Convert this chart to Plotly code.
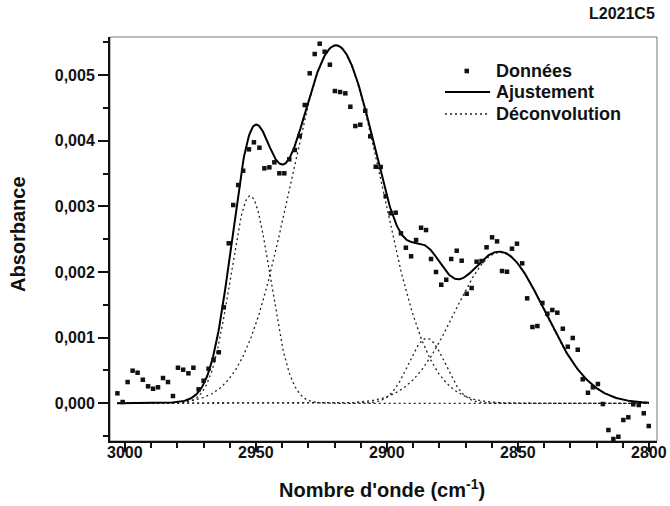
import numpy as np
import plotly.graph_objects as go

# ---- data ----
wavenumber = [3002.9, 3000.9, 2999.0, 2997.1, 2995.2, 2993.2, 2991.2, 2989.3, 2987.4, 2985.5,
              2983.6, 2981.7, 2979.8, 2977.8, 2975.8, 2973.9, 2971.9, 2970.0, 2968.1, 2966.2,
              2964.2, 2962.3, 2960.4, 2958.7, 2956.8, 2954.9, 2952.7, 2950.8, 2948.7, 2946.8,
              2944.9, 2943.0, 2941.1, 2939.2, 2937.3, 2935.2, 2933.3, 2931.4, 2929.5, 2927.6,
              2925.7, 2923.8, 2921.8, 2919.9, 2917.9, 2915.9, 2914.0, 2912.1, 2910.2, 2908.3,
              2906.4, 2904.3, 2902.4, 2900.5, 2898.6, 2896.7, 2894.7, 2892.8, 2890.8, 2888.9,
              2887.0, 2885.1, 2883.2, 2881.3, 2879.3, 2877.4, 2875.5, 2873.4, 2871.5, 2869.6,
              2867.7, 2865.8, 2863.9, 2862.0, 2859.9, 2858.0, 2856.1, 2854.2, 2852.3, 2850.4,
              2848.4, 2846.5, 2844.5, 2842.6, 2840.7, 2838.8, 2836.9, 2835.0, 2832.9, 2831.0,
              2829.1, 2827.2, 2825.3, 2823.3, 2821.4, 2819.5, 2817.6, 2815.5, 2813.6, 2811.7,
              2809.8, 2807.9, 2806.0, 2803.9, 2802.0, 2800.1]

absorbance = [0.000152, 0.000020, 0.000324, 0.000497, 0.000466, 0.000359, 0.000259, 0.000222, 0.000244, 0.000385,
              0.000324, 0.000111, 0.000542, 0.000512, 0.000457, 0.000542, 0.000213, 0.000344, 0.000527, 0.000664,
              0.000777, 0.001462, 0.002437, 0.003020, 0.003325, 0.003542, 0.003868, 0.003975, 0.003893, 0.003579,
              0.003594, 0.003670, 0.003503, 0.003503, 0.003716, 0.003858, 0.004071, 0.004543, 0.005026, 0.005320,
              0.005477, 0.005355, 0.005157, 0.004756, 0.004741, 0.004721, 0.004517, 0.004223, 0.004243, 0.004456,
              0.004066, 0.003603, 0.003599, 0.003153, 0.002894, 0.002903, 0.002589, 0.002370, 0.002239, 0.002487,
              0.002674, 0.002639, 0.002198, 0.002000, 0.001806, 0.001882, 0.002198, 0.002324, 0.002172, 0.001669,
              0.001756, 0.002157, 0.002167, 0.002376, 0.002528, 0.002467, 0.002015, 0.002004, 0.002355, 0.002431,
              0.002132, 0.001599, 0.001162, 0.001177, 0.001528, 0.001365, 0.001421, 0.001380, 0.001136, 0.000862,
              0.000995, 0.000816, 0.000366, 0.000161, 0.000244, 0.000294, -0.000011, -0.000407, -0.000544, -0.000509,
              -0.000254, -0.000213, -0.000015, -0.000026, -0.000152, -0.000346]

# Gaussian deconvolution components (centre, height, sigma)
peak_centers = [2952.2, 2919.5, 2884.8, 2856.9]
peak_heights = [0.00316, 0.00545, 0.00099, 0.00230]
peak_sigmas = [7.6, 17.6, 7.0, 17.2]

x_ticks = [3000, 2950, 2900, 2850, 2800]
x_tick_labels = ["3000", "2950", "2900", "2850", "2800"]
y_ticks = [0.000, 0.001, 0.002, 0.003, 0.004, 0.005]

legend_labels = ["Données", "Ajustement", "Déconvolution"]

# ---- figure ----
grid = np.linspace(3003, 2800, 700)
components = [h * np.exp(-0.5 * ((grid - c) / s) ** 2)
              for c, h, s in zip(peak_centers, peak_heights, peak_sigmas)]
fit = np.sum(components, axis=0)

DOT = "2px,3px"
fig = go.Figure()
for comp in components:
    fig.add_trace(go.Scatter(
        x=grid, y=comp, mode="lines", name=legend_labels[2], showlegend=False,
        line=dict(color="#222", width=1.3, dash=DOT)))

fig.add_trace(go.Scatter(
    x=grid, y=fit, mode="lines", name=legend_labels[1], showlegend=False,
    line=dict(color="black", width=2)))

fig.add_trace(go.Scatter(
    x=wavenumber, y=absorbance, mode="markers", name=legend_labels[0], showlegend=False,
    marker=dict(symbol="square", size=4.5, color="#111"), cliponaxis=False))

font_family = "Liberation Sans, Arial, sans-serif"

fig.update_layout(
    width=670, height=506,
    margin=dict(l=110, r=13, t=37, b=65),
    paper_bgcolor="white", plot_bgcolor="white",
    separators=", ",
    font=dict(family=font_family, color="#111"),
    showlegend=False,
)

fig.update_xaxes(
    range=[3005.73, 2796.95], tickvals=x_ticks, showticklabels=False,
    ticks="outside", ticklen=9, tickwidth=2, tickcolor="#111",
    showline=True, linewidth=2, linecolor="#111", mirror=False,
    showgrid=False, zeroline=False,
    minor=dict(dtick=10, tick0=3000, ticks="outside", ticklen=5, tickwidth=2, tickcolor="#111", showgrid=False),
)
fig.update_yaxes(
    range=[-0.000574, 0.005579], tickvals=y_ticks, tickformat=".3f",
    ticks="outside", ticklen=10, tickwidth=2, tickcolor="#111",
    showline=True, linewidth=2, linecolor="#111", mirror=False,
    showgrid=False, zeroline=False,
    tickfont=dict(size=16, family=font_family, weight="bold"),
    minor=dict(dtick=0.0005, tick0=0, ticks="outside", ticklen=5, tickwidth=2, tickcolor="#111", showgrid=False),
)

# thin frame on top/right
fig.add_shape(type="rect", xref="paper", yref="paper", x0=0, x1=1, y0=0, y1=1,
              line=dict(color="#777", width=1), layer="below")

# ---- page px -> paper coords (plot area x 110-657, y 37-441) ----
def px(xp):
    return (xp - 110) / 547.0

def py(yp):
    return (441 - yp) / 404.0

# x tick labels placed on the data axis
for v, t in zip(x_ticks, x_tick_labels):
    fig.add_annotation(text=t, xref="x", yref="paper", x=v, y=py(452),
                       xanchor="center", yanchor="middle", showarrow=False,
                       font=dict(size=16, family=font_family, weight="bold"))

# hand-drawn legend
rows = [71, 92, 114]
fig.add_shape(type="rect", xref="paper", yref="paper",
              x0=px(464.5), x1=px(469), y0=py(rows[0] + 2.3), y1=py(rows[0] - 2.3),
              fillcolor="#111", line=dict(width=0))
fig.add_shape(type="line", xref="paper", yref="paper",
              x0=px(445), x1=px(490), y0=py(rows[1]), y1=py(rows[1]),
              line=dict(color="black", width=2))
fig.add_shape(type="line", xref="paper", yref="paper",
              x0=px(445), x1=px(490), y0=py(rows[2]), y1=py(rows[2]),
              line=dict(color="#222", width=1.3, dash=DOT))
for label, yr in zip(legend_labels, rows):
    fig.add_annotation(text=label, xref="paper", yref="paper", x=px(494), y=py(yr),
                       xanchor="left", yanchor="middle", showarrow=False,
                       font=dict(size=18, family=font_family, weight="bold"))

fig.add_annotation(text="L2021C5", xref="paper", yref="paper", x=1.0, y=py(14),
                   xanchor="right", yanchor="middle", showarrow=False,
                   font=dict(size=16, family=font_family, weight="bold"))
fig.add_annotation(text="Nombre d'onde (cm<sup>-1</sup>)", xref="paper", yref="paper",
                   x=px(382), y=py(488), xanchor="center", yanchor="middle", showarrow=False,
                   font=dict(size=20, family=font_family, weight="bold"))
fig.add_annotation(text="Absorbance", xref="paper", yref="paper", textangle=-90,
                   x=px(18), y=py(234), xanchor="center", yanchor="middle", showarrow=False,
                   font=dict(size=20, family=font_family, weight="bold"))

# remove the browser's default 8px body margin so the figure fills the window
fig.write_html("out.html", config={"displayModeBar": False},
               post_script="document.body.style.margin='0px';")
